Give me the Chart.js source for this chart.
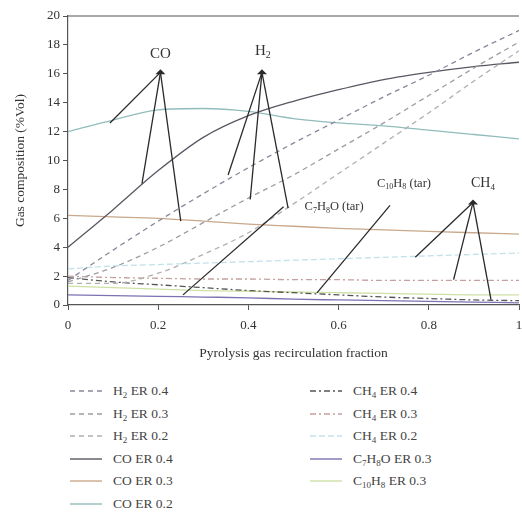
<!DOCTYPE html>
<html>
<head>
<meta charset="utf-8">
<script src="https://cdn.jsdelivr.net/npm/chart.js@4"></script>
<style>
  body { margin: 0; background: #fff; font-family: "Liberation Serif", serif; }
  #wrap { position: relative; width: 522px; height: 512px; }
  #legend { position: absolute; left: 0; top: 380px; width: 522px; font-size: 13.5px; color: #444; }
  .col { position: absolute; top: 0; }
  .item { height: 22.5px; display: flex; align-items: center; white-space: nowrap; }
  .item svg { margin-right: 11px; }
  sub { font-size: 9px; vertical-align: -3px; line-height: 0; }
</style>
</head>
<body>
<div id="wrap">
  <canvas id="chart" width="522" height="362" style="width:522px;height:362px"></canvas>
  <div id="legend"></div>
</div>
<script>
document.addEventListener("DOMContentLoaded", function () {
  // recirculation fraction
  const xs = [0, 0.1, 0.2, 0.3, 0.4, 0.5, 0.6, 0.7, 0.8, 0.9, 1.0];

  const h2Er04 = [1.7, 3.8, 5.8, 7.7, 9.5, 11.2, 12.8, 14.4, 15.9, 17.5, 19.0];
  const h2Er03 = [1.6, 2.6, 4.0, 5.7, 7.4, 9.0, 10.8, 12.6, 14.5, 16.4, 18.2];
  const h2Er02 = [1.5, 1.5, 2.2, 3.5, 5.0, 7.0, 9.1, 11.2, 13.3, 15.5, 17.6];
  const coEr04 = [4.0, 6.6, 9.3, 11.6, 13.1, 14.1, 14.9, 15.6, 16.1, 16.5, 16.8];
  const coEr03 = [6.2, 6.1, 6.0, 5.8, 5.6, 5.45, 5.3, 5.2, 5.1, 5.0, 4.9];
  const coEr02 = [12.0, 12.8, 13.5, 13.6, 13.4, 12.9, 12.6, 12.4, 12.1, 11.8, 11.5];
  const ch4Er04 = [1.9, 1.6, 1.4, 1.2, 1.0, 0.85, 0.7, 0.55, 0.45, 0.35, 0.3];
  const ch4Er03 = [2.0, 1.9, 1.85, 1.8, 1.8, 1.75, 1.75, 1.7, 1.7, 1.7, 1.7];
  const ch4Er02 = [2.5, 2.7, 2.8, 2.9, 3.0, 3.1, 3.2, 3.3, 3.4, 3.5, 3.6];
  const c7h8oEr03 = [0.7, 0.65, 0.6, 0.55, 0.5, 0.4, 0.35, 0.3, 0.25, 0.2, 0.15];
  const c10h8Er03 = [1.3, 1.2, 1.1, 1.0, 0.95, 0.9, 0.85, 0.8, 0.75, 0.7, 0.7];

  const xTicks = [0, 0.2, 0.4, 0.6, 0.8, 1];
  const yTicks = [0, 2, 4, 6, 8, 10, 12, 14, 16, 18, 20];

  // callouts: tip of the pointer and the curve points it reaches
  const coTip = [0.205, 16.1];
  const coEnds = [[0.093, 12.6], [0.164, 8.4], [0.25, 5.8]];
  const h2Tip = [0.43, 16.1];
  const h2Ends = [[0.355, 9.0], [0.404, 7.3], [0.488, 6.7]];
  const ch4Tip = [0.898, 7.1];
  const ch4Ends = [[0.77, 3.3], [0.855, 1.75], [0.938, 0.35]];
  const c7h8oLine = [[0.478, 6.8], [0.255, 0.7]];
  const c10h8Line = [[0.714, 6.9], [0.552, 0.84]];

  const pts = ys => xs.map((x, i) => ({ x: x, y: ys[i] }));

  const series = [
    { label: 'H<sub>2</sub> ER 0.4', data: h2Er04, color: '#88889a', dash: [5, 4], col: 0 },
    { label: 'H<sub>2</sub> ER 0.3', data: h2Er03, color: '#9c9ca4', dash: [5, 4], col: 0 },
    { label: 'H<sub>2</sub> ER 0.2', data: h2Er02, color: '#b0b0b0', dash: [5, 4], col: 0 },
    { label: 'CO ER 0.4', data: coEr04, color: '#5c5662', dash: [], col: 0 },
    { label: 'CO ER 0.3', data: coEr03, color: '#c9a88c', dash: [], col: 0 },
    { label: 'CO ER 0.2', data: coEr02, color: '#92bcbc', dash: [], col: 0 },
    { label: 'CH<sub>4</sub> ER 0.4', data: ch4Er04, color: '#555555', dash: [6, 3, 2, 3], col: 1 },
    { label: 'CH<sub>4</sub> ER 0.3', data: ch4Er03, color: '#c4a0a0', dash: [6, 3, 2, 3], col: 1 },
    { label: 'CH<sub>4</sub> ER 0.2', data: ch4Er02, color: '#c2e2ea', dash: [6, 3], col: 1 },
    { label: 'C<sub>7</sub>H<sub>8</sub>O ER 0.3', data: c7h8oEr03, color: '#7a72b2', dash: [], col: 1 },
    { label: 'C<sub>10</sub>H<sub>8</sub> ER 0.3', data: c10h8Er03, color: '#cfe0a6', dash: [], col: 1 }
  ];

  function drawSub(ctx, parts, x, y, size) {
    const big = size + 'px "Liberation Serif"';
    const small = Math.round(size * 0.65) + 'px "Liberation Serif"';
    let w = 0;
    parts.forEach(p => { ctx.font = p[1] ? small : big; w += ctx.measureText(p[0]).width; });
    let cx = x - w / 2;
    ctx.textBaseline = 'middle';
    ctx.textAlign = 'left';
    parts.forEach(p => {
      ctx.font = p[1] ? small : big;
      ctx.fillText(p[0], cx, p[1] ? y + size * 0.3 : y);
      cx += ctx.measureText(p[0]).width;
    });
  }

  const calloutPlugin = {
    id: 'callouts',
    afterDatasetsDraw(chart) {
      const ctx = chart.ctx, xs_ = chart.scales.x, ys_ = chart.scales.y, a = chart.chartArea;
      const px = p => [xs_.getPixelForValue(p[0]), ys_.getPixelForValue(p[1])];
      ctx.save();
      // top frame line
      ctx.strokeStyle = '#555';
      ctx.lineWidth = 1.2;
      ctx.beginPath();
      ctx.moveTo(a.left, a.top);
      ctx.lineTo(a.right, a.top);
      ctx.stroke();

      ctx.strokeStyle = '#2a2a2a';
      ctx.fillStyle = '#2a2a2a';
      ctx.lineWidth = 1.3;
      [[coTip, coEnds], [h2Tip, h2Ends], [ch4Tip, ch4Ends]].forEach(([tip, ends]) => {
        const t = px(tip);
        ends.forEach(e => {
          const q = px(e);
          ctx.beginPath();
          ctx.moveTo(t[0], t[1]);
          ctx.lineTo(q[0], q[1]);
          ctx.stroke();
        });
        ctx.beginPath();
        ctx.moveTo(t[0] - 5, t[1] + 2);
        ctx.lineTo(t[0], t[1] - 3);
        ctx.lineTo(t[0] + 5, t[1] + 2);
        ctx.closePath();
        ctx.fill();
      });
      [c7h8oLine, c10h8Line].forEach(l => {
        const p0 = px(l[0]), p1 = px(l[1]);
        ctx.beginPath();
        ctx.moveTo(p0[0], p0[1]);
        ctx.lineTo(p1[0], p1[1]);
        ctx.stroke();
      });

      ctx.fillStyle = '#333';
      let p = px([0.205, 17.4]);
      drawSub(ctx, [['CO', 0]], p[0], p[1], 15);
      p = px([0.432, 17.6]);
      drawSub(ctx, [['H', 0], ['2', 1]], p[0], p[1], 15);
      p = px([0.92, 8.4]);
      drawSub(ctx, [['CH', 0], ['4', 1]], p[0], p[1], 14);
      p = px([0.59, 6.8]);
      drawSub(ctx, [['C', 0], ['7', 1], ['H', 0], ['8', 1], ['O (tar)', 0]], p[0], p[1], 12.5);
      p = px([0.745, 8.4]);
      drawSub(ctx, [['C', 0], ['10', 1], ['H', 0], ['8', 1], [' (tar)', 0]], p[0], p[1], 12.5);
      ctx.restore();
    }
  };

  const font = { family: '"Liberation Serif", serif', size: 13 };

  new Chart(document.getElementById('chart').getContext('2d'), {
    type: 'line',
    data: {
      datasets: series.map(s => ({
        label: s.label,
        data: pts(s.data),
        borderColor: s.color,
        borderDash: s.dash,
        borderWidth: 1.3,
        pointRadius: 0,
        fill: false,
        cubicInterpolationMode: 'monotone'
      }))
    },
    options: {
      responsive: false,
      animation: false,
      layout: { padding: { top: 16, right: 3, left: 0, bottom: 0 } },
      plugins: { legend: { display: false }, tooltip: { enabled: false } },
      scales: {
        x: {
          type: 'linear', min: 0, max: 1,
          afterBuildTicks: s => { s.ticks = xTicks.map(v => ({ value: v })); },
          afterFit: s => { s.height = 57; s.paddingLeft = 0; s.paddingRight = 0; },
          ticks: { font: font, color: '#333', padding: 8, callback: v => (v === 0 || v === 1) ? String(v) : v.toFixed(1) },
          grid: { drawOnChartArea: false, drawTicks: true, tickLength: 5, color: '#555' },
          border: { color: '#555', width: 1.2 },
          title: { display: true, text: 'Pyrolysis gas recirculation fraction', font: { family: font.family, size: 13.5 }, color: '#333', padding: { top: 6, bottom: 0 } }
        },
        y: {
          min: 0, max: 20,
          afterBuildTicks: s => { s.ticks = yTicks.map(v => ({ value: v })); },
          afterFit: s => { s.width = 68; s.paddingTop = 0; s.paddingBottom = 0; },
          ticks: { font: font, color: '#333' },
          grid: { drawOnChartArea: false, drawTicks: true, tickLength: 5, color: '#555' },
          border: { color: '#555', width: 1.2 },
          title: { display: true, text: 'Gas composition (%Vol)', font: { family: font.family, size: 13.5 }, color: '#333', padding: { top: 12, bottom: 4 } }
        }
      }
    },
    plugins: [calloutPlugin]
  });

  // two-column legend below the plot
  const legend = document.getElementById('legend');
  [[70, 0], [310, 1]].forEach(([left, c]) => {
    const col = document.createElement('div');
    col.className = 'col';
    col.style.left = left + 'px';
    series.filter(s => s.col === c).forEach(s => {
      const item = document.createElement('div');
      item.className = 'item';
      item.innerHTML = '<svg width="32" height="8"><line x1="0" y1="4" x2="32" y2="4" stroke="' + s.color +
        '" stroke-width="1.4" stroke-dasharray="' + (s.dash.length ? s.dash.join(',') : 'none') + '"/></svg><span>' + s.label + '</span>';
      col.appendChild(item);
    });
    legend.appendChild(col);
  });
});
</script>
</body>
</html>
